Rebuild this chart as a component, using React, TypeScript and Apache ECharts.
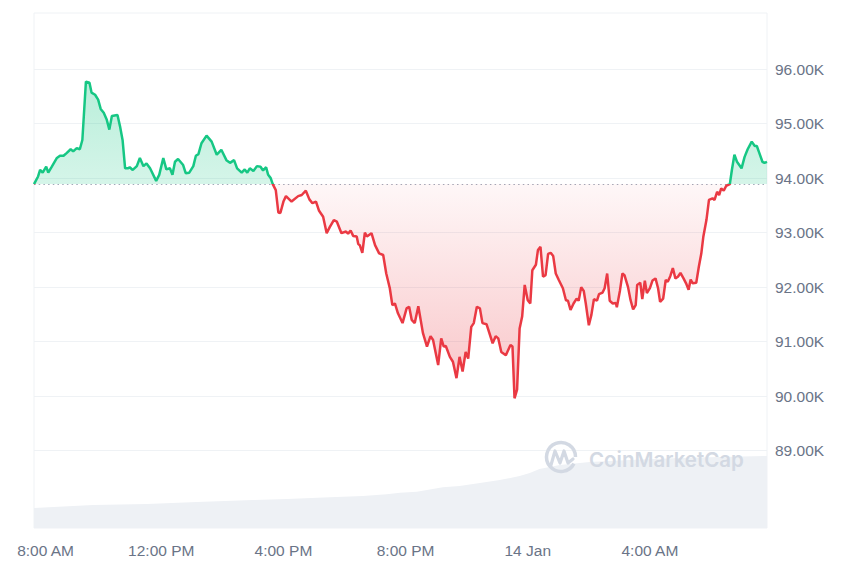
import React, { useEffect, useRef } from "react";
import * as echarts from "echarts";

// Opening price (dotted reference line)
const baseline = 93890;

// Minutes since 00:00, 13 Jan (470 = 7:50 AM, 1910 = 7:50 AM 14 Jan)
const times = [
  470, 478, 482, 487, 494, 498, 505, 515, 521, 528, 534, 542, 547, 554, 560, 565, 572, 579, 583, 590,
  596, 601, 607, 613, 618, 623, 634, 639, 644, 649, 655, 658, 664, 672, 678, 685, 691, 698, 710, 716,
  724, 730, 737, 742, 747, 753, 763, 768, 775, 783, 788, 793, 799, 809, 819, 829, 838, 848, 855, 863,
  869, 878, 884, 889, 894, 901, 908, 915, 920, 926, 930, 935, 939,
  945, 950, 954, 960, 965, 976, 989, 996, 1004, 1011,
  1017, 1024, 1030, 1038, 1045, 1051, 1059, 1065, 1074, 1083,
  1087, 1092, 1097, 1104, 1107, 1110, 1115, 1120, 1124, 1133,
  1140, 1148, 1156, 1162, 1169, 1174, 1179, 1185, 1194, 1202,
  1207, 1212, 1218, 1225, 1234, 1242, 1249, 1254, 1259, 1264,
  1270, 1275, 1279, 1287, 1293, 1300, 1306, 1312, 1318, 1323,
  1329, 1334, 1340, 1346, 1351, 1359, 1371, 1377, 1382, 1388,
  1397, 1406, 1410, 1414, 1419, 1424, 1429, 1434, 1440, 1445,
  1449, 1456, 1460, 1465, 1470, 1475, 1480, 1485, 1490, 1495,
  1501, 1509, 1515, 1519, 1524, 1530, 1536, 1540, 1545, 1550,
  1554, 1560, 1565, 1570, 1576, 1580, 1587, 1591, 1596, 1601,
  1607, 1613, 1615, 1621, 1626, 1630, 1637, 1642, 1647, 1652,
  1655, 1661, 1665, 1670, 1674, 1680, 1685, 1691, 1696, 1700,
  1706, 1711, 1715, 1720, 1725, 1730, 1735, 1740, 1746, 1751,
  1756, 1760, 1764, 1771, 1776, 1781, 1785, 1791, 1796, 1803,
  1807, 1812, 1816, 1820, 1825, 1830, 1837, 1841, 1846, 1851,
  1860, 1866, 1872, 1880, 1886, 1890, 1895, 1901, 1905, 1910,
];

// BTC price, USD
const prices = [
  93890, 94030, 94150, 94100, 94210, 94100, 94210, 94370, 94410, 94410, 94460, 94530, 94490, 94550, 94530, 94700, 95770, 95750, 95570, 95530,
  95440, 95270, 95200, 95070, 94890, 95140, 95160, 94950, 94700, 94180, 94180, 94200, 94150, 94220, 94370, 94220, 94270, 94180, 93950, 94060,
  94370, 94160, 94180, 94060, 94300, 94350, 94240, 94090, 94100, 94220, 94410, 94440, 94640, 94780, 94670, 94430, 94520, 94330, 94280, 94330,
  94180, 94100, 94160, 94100, 94180, 94130, 94220, 94210, 94140, 94200, 94060, 94000, 93890,
  93780, 93370, 93360, 93570, 93670, 93570, 93670, 93690, 93770, 93610,
  93540, 93570, 93400, 93290, 92990, 93100, 93230, 93200, 92990, 93020,
  92980, 93040, 92940, 92930, 92790, 92770, 92630, 93000, 92930, 92990,
  92770, 92620, 92590, 92250, 91980, 91670, 91700, 91520, 91340, 91610,
  91640, 91400, 91340, 91650, 91160, 90910, 91100, 91030, 90800, 90570,
  91060, 90910, 90920, 90720, 90630, 90330, 90720, 90450, 90810, 90690,
  91270, 91340, 91640, 91610, 91340, 91320, 90970, 91100, 91060, 90810,
  90750, 90940, 90910, 89960, 90120, 91240, 91460, 92040, 91760, 91700,
  92310, 92410, 92680, 92740, 92190, 92220, 92610, 92630, 92570, 92250,
  92130, 91980, 91760, 91750, 91580, 91700, 91790, 91750, 92000, 91930,
  91700, 91300, 91490, 91780, 91750, 91870, 91900, 91980, 92250, 91750,
  91700, 91710, 91630, 91930, 92250, 92220, 92000, 91760, 91590, 91670,
  92040, 92080, 91780, 92120, 91890, 91980, 92120, 92160, 91980, 91730,
  91790, 92130, 92100, 92200, 92350, 92160, 92190, 92260, 92160, 92070,
  91950, 92140, 92070, 92080, 92370, 92620, 92930, 93230, 93600, 93630,
  93600, 93750, 93690, 93810, 93770, 93860, 93890, 94150, 94430, 94300,
  94180, 94390, 94530, 94670, 94590, 94590, 94460, 94300, 94280, 94300,
];

// 24h volume (USD billions)
const volumeTimes = [470, 586, 692, 790, 900, 967, 1051, 1116, 1163, 1189, 1222, 1242, 1273, 1306, 1346, 1385, 1424, 1444, 1463, 1503, 1562, 1640, 1738, 1817, 1910];
const volumes = [9.7, 11.2, 11.7, 12.6, 13.6, 14.1, 14.9, 15.5, 16.4, 17.1, 17.6, 18.4, 19.8, 20.4, 21.8, 23.3, 25.2, 26.7, 28.6, 30.6, 32.0, 33.0, 34.0, 34.5, 35.0];

const yTicks = [89000, 90000, 91000, 92000, 93000, 94000, 95000, 96000];
const xTickValues = [480, 720, 960, 1200, 1440, 1680];
const xTickLabels = ["8:00 AM", "12:00 PM", "4:00 PM", "8:00 PM", "14 Jan", "4:00 AM"];

const xMin = 470;
const xMax = 1910;
const yMin = 87580;
const yMax = 97030;
const volMax = 250;

const GREEN = "#16c784";
const RED = "#ea3943";

export default function App() {
  const ref = useRef<HTMLDivElement>(null);
  useEffect(() => {
    document.body.style.margin = "0";
    const chart = echarts.init(ref.current as HTMLDivElement, null, { renderer: "svg" });
    const priceData = times.map((t, i) => [t, prices[i]]);
    const upData = times.map((t, i) => [t, Math.max(prices[i], baseline)]);
    const downData = times.map((t, i) => [t, Math.min(prices[i], baseline)]);
    const volData = volumeTimes.map((t, i) => [t, volumes[i]]);
    const labelFont = {
      color: "#6a7487",
      fontSize: 15.5,
      fontFamily: "'Liberation Sans', Arial, sans-serif",
    };
    chart.setOption({
      animation: false,
      grid: {
        left: 34,
        right: 93,
        top: 13,
        bottom: 45,
        show: true,
        borderColor: "#eff2f5",
        borderWidth: 1,
      },
      xAxis: {
        type: "value",
        min: xMin,
        max: xMax,
        axisLine: { show: false },
        axisTick: { show: false },
        splitLine: { show: false },
        axisLabel: {
          ...labelFont,
          margin: 14,
          customValues: xTickValues,
          formatter: (v: number) => {
            const i = xTickValues.indexOf(v);
            if (i < 0) return "";
            return i === 0 ? "{first|" + xTickLabels[i] + "}" : xTickLabels[i];
          },
          rich: { first: { ...labelFont, padding: [0, 0, 0, 13] } },
        },
      },
      yAxis: [
        {
          type: "value",
          position: "right",
          min: yMin,
          max: yMax,
          axisLine: { show: false },
          axisTick: { show: false },
          splitLine: { show: false },
          axisLabel: {
            ...labelFont,
            margin: 8,
            customValues: yTicks,
            formatter: (v: number) => (v / 1000).toFixed(2) + "K",
          },
        },
        { type: "value", min: 0, max: volMax, show: false },
      ],
      visualMap: {
        show: false,
        type: "piecewise",
        seriesIndex: 3,
        dimension: 1,
        pieces: [
          { gt: 0, lte: baseline, color: RED },
          { gt: baseline, lte: 1000000, color: GREEN },
        ],
        outOfRange: { color: GREEN },
      },
      series: [
        {
          type: "line",
          yAxisIndex: 1,
          data: volData,
          showSymbol: false,
          silent: true,
          lineStyle: { width: 0 },
          areaStyle: { color: "#eef1f5", opacity: 1 },
          z: 1,
        },
        {
          type: "line",
          data: upData,
          showSymbol: false,
          silent: true,
          lineStyle: { width: 0 },
          areaStyle: {
            origin: baseline,
            opacity: 1,
            color: {
              type: "linear", x: 0, y: 0, x2: 0, y2: 1,
              colorStops: [
                { offset: 0, color: "rgba(22,199,132,0.30)" },
                { offset: 1, color: "rgba(22,199,132,0.18)" },
              ],
            },
          },
          markLine: {
            silent: true,
            symbol: "none",
            z: 0,
            label: { show: false },
            lineStyle: { color: "#eff2f5", width: 1, type: "solid" },
            data: yTicks.map((v) => ({ yAxis: v })),
          },
          z: 2,
        },
        {
          type: "line",
          data: downData,
          showSymbol: false,
          silent: true,
          lineStyle: { width: 0 },
          areaStyle: {
            origin: baseline,
            opacity: 1,
            color: {
              type: "linear", x: 0, y: 0, x2: 0, y2: 1,
              colorStops: [
                { offset: 0, color: "rgba(234,57,67,0.04)" },
                { offset: 1, color: "rgba(234,57,67,0.30)" },
              ],
            },
          },
          markLine: {
            silent: true,
            symbol: "none",
            z: 3,
            label: { show: false },
            lineStyle: { color: "#a1a9b8", width: 1.2, type: [1.5, 3.2] },
            data: [{ yAxis: baseline }],
          },
          z: 3,
        },
        {
          type: "line",
          data: priceData,
          showSymbol: false,
          lineStyle: { width: 2.5 },
          z: 10,
        },
      ],
      graphic: [
        {
          type: "arc",
          shape: { cx: 561, cy: 457, r: 14.5, startAngle: 0.15 * Math.PI, endAngle: 2.0 * Math.PI },
          style: { stroke: "#d3d9e3", lineWidth: 3.5, fill: "none" },
          z: 50,
        },
        {
          type: "polyline",
          shape: { points: [[551, 465], [555, 451], [560, 463], [564, 451], [568, 463], [573, 459]] },
          style: { stroke: "#d3d9e3", lineWidth: 3.2, fill: "none", lineJoin: "round", lineCap: "round" },
          z: 50,
        },
        {
          type: "text",
          x: 589,
          y: 459,
          style: {
            text: "CoinMarketCap",
            fill: "#d3d9e3",
            fontSize: 20.5,
            fontWeight: 600,
            fontFamily: "Inter, 'Open Sans', sans-serif",
            verticalAlign: "middle",
            align: "left",
          },
          z: 50,
        },
      ],
    });
    return () => chart.dispose();
  }, []);
  return <div ref={ref} style={{ width: 860, height: 573 }} />;
}
